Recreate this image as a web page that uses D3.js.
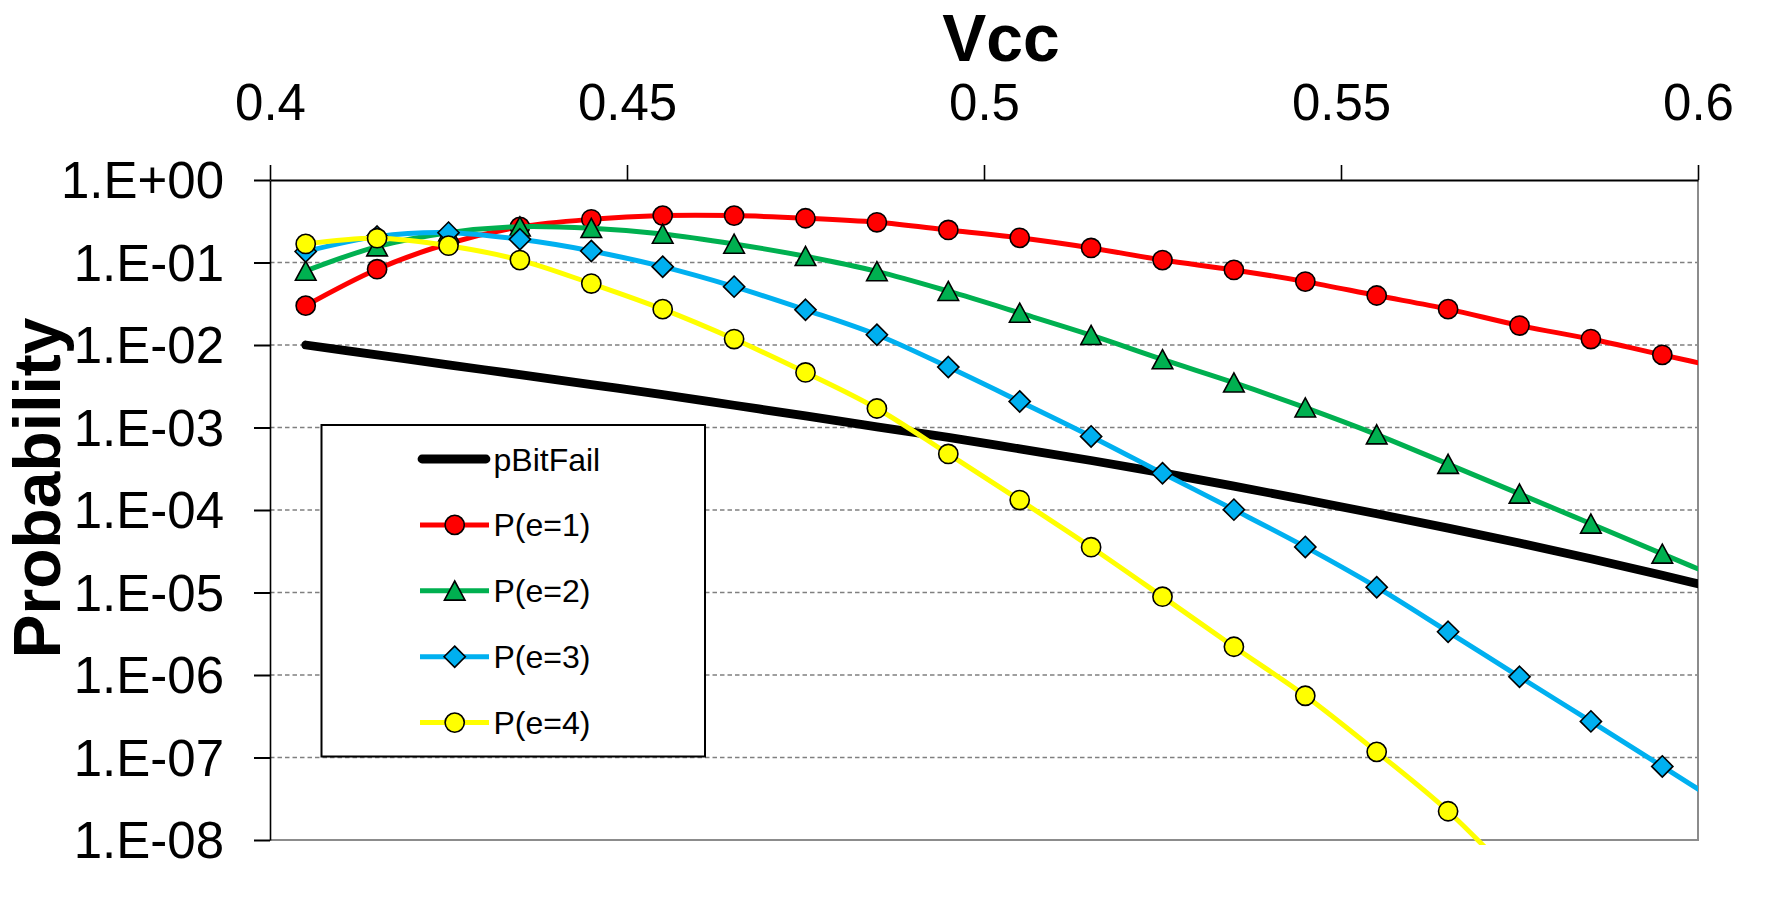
<!DOCTYPE html>
<html>
<head>
<meta charset="utf-8">
<script src="https://cdn.jsdelivr.net/npm/d3@7"></script>
<style>
  body { margin: 0; background: #fff; }
  svg { display: block; font-family: "Liberation Sans", Arial, sans-serif; }
</style>
</head>
<body>
<div id="chart"></div>
<script>
//data
const vcc = [0.405, 0.415, 0.425, 0.435, 0.445, 0.455, 0.465, 0.475, 0.485, 0.495, 0.505,
             0.515, 0.525, 0.535, 0.545, 0.555, 0.565, 0.575, 0.585, 0.595, 0.605];
const pBitFail = [1.00e-2, 7.59e-3, 5.75e-3, 4.37e-3, 3.31e-3, 2.51e-3, 1.86e-3, 1.38e-3, 1.02e-3, 7.59e-4, 5.50e-4,
                  3.98e-4, 2.82e-4, 1.95e-4, 1.33e-4, 9.02e-5, 6.03e-5, 3.98e-5, 2.57e-5, 1.62e-5, 1.0e-5];
const pE1 = [0.030, 0.083, 0.17, 0.27, 0.334, 0.37, 0.37, 0.344, 0.307, 0.248, 0.199,
             0.150, 0.107, 0.0813, 0.0587, 0.0398, 0.0272, 0.0172, 0.0118, 0.0076, 0.0049];
const pE2 = [0.079, 0.156, 0.23, 0.272, 0.26, 0.222, 0.168, 0.119, 0.078, 0.0449, 0.0245,
             0.01315, 0.00668, 0.00349, 0.00174, 8.2e-4, 3.6e-4, 1.57e-4, 6.8e-5, 2.94e-5, 1.27e-5];
const pE3 = [0.136, 0.206, 0.23, 0.191, 0.138, 0.089, 0.051, 0.0267, 0.0133, 0.0054, 0.00207,
             7.8e-4, 2.79e-4, 1.01e-4, 3.57e-5, 1.16e-5, 3.34e-6, 9.5e-7, 2.74e-7, 7.8e-8, 2.2e-8];
const pE4 = [0.168, 0.197, 0.160, 0.107, 0.0556, 0.0272, 0.0118, 0.00465, 0.0017, 4.78e-4, 1.32e-4,
             3.54e-5, 8.9e-6, 2.2e-6, 5.6e-7, 1.17e-7, 2.23e-8, 3e-9];

const seriesNames = ["pBitFail", "P(e=1)", "P(e=2)", "P(e=3)", "P(e=4)"];
const xTicks = [0.4, 0.45, 0.5, 0.55, 0.6];
const xTickLabels = ["0.4", "0.45", "0.5", "0.55", "0.6"];
const yTicks = [1, 1e-1, 1e-2, 1e-3, 1e-4, 1e-5, 1e-6, 1e-7, 1e-8];
const yTickLabels = ["1.E+00", "1.E-01", "1.E-02", "1.E-03", "1.E-04", "1.E-05", "1.E-06", "1.E-07", "1.E-08"];

//styles per series
const styles = [
  { color: "#000000", width: 8.8, marker: null },
  { color: "#FF0000", width: 5, marker: "circle" },
  { color: "#00B050", width: 5, marker: "triangle" },
  { color: "#00B0F0", width: 5, marker: "diamond" },
  { color: "#FFFF00", width: 5, marker: "circle" }
];
const allValues = [pBitFail, pE1, pE2, pE3, pE4];

const W = 1769, H = 898;
const plot = { left: 270, right: 1698, top: 180, bottom: 840 };

const svg = d3.select("#chart").append("svg")
    .attr("width", W).attr("height", H);
svg.append("rect").attr("width", W).attr("height", H).attr("fill", "#fff");

const x = d3.scaleLinear().domain([0.4, 0.6]).range([plot.left, plot.right]);
const y = d3.scaleLog().domain([1e-8, 1]).range([plot.bottom, plot.top]);

//marker path, centered on 0,0
function markerPath(kind) {
  if (kind === "circle") return d3.arc()({ innerRadius: 0, outerRadius: 9.6, startAngle: 0, endAngle: 2 * Math.PI });
  if (kind === "triangle") return "M0,-9.8L10.3,9.3L-10.3,9.3Z";
  if (kind === "diamond") return "M0,-10.6L10.6,0L0,10.6L-10.6,0Z";
  return null;
}

drawGrid();
drawSeries();
drawAxes();
drawLegend();
drawTitles();

//Gridlines and plot border
function drawGrid() {
  svg.append("g")
    .selectAll("line")
    .data(yTicks.slice(1, -1))
    .join("line")
      .attr("x1", plot.left).attr("x2", plot.right)
      .attr("y1", d => y(d)).attr("y2", d => y(d))
      .attr("stroke", "#808080")
      .attr("stroke-width", 1.6)
      .attr("stroke-dasharray", "4.5,3");
  //right and bottom border (gray)
  svg.append("path")
    .attr("d", `M${plot.right},${plot.top}V${plot.bottom}H${plot.left}`)
    .attr("fill", "none")
    .attr("stroke", "#8c8c8c")
    .attr("stroke-width", 2);
}

//Lines and markers
function drawSeries() {
  svg.append("clipPath").attr("id", "clip")
    .append("rect")
      .attr("x", plot.left).attr("y", plot.top)
      .attr("width", plot.right - plot.left)
      .attr("height", plot.bottom - plot.top + 5);

  const g = svg.append("g").attr("clip-path", "url(#clip)");
  const line = d3.line()
      .x(d => x(d[0]))
      .y(d => y(d[1]))
      .curve(d3.curveCatmullRom.alpha(0.5));

  allValues.forEach((vals, i) => {
    const pts = vals.map((v, j) => [vcc[j], v]);
    const st = styles[i];
    g.append("path")
      .attr("d", line(pts))
      .attr("fill", "none")
      .attr("stroke", st.color)
      .attr("stroke-width", st.width)
      .attr("stroke-linecap", i === 0 ? "round" : "butt")
      .attr("stroke-linejoin", "round");
    if (st.marker) {
      g.append("g").selectAll("path")
        .data(pts)
        .join("path")
          .attr("transform", d => `translate(${x(d[0])},${y(d[1])})`)
          .attr("d", markerPath(st.marker))
          .attr("fill", st.color)
          .attr("stroke", "#000")
          .attr("stroke-width", 1.6);
    }
  });
}

//Axes: x on top, y on left (log)
function drawAxes() {
  const xAxis = svg.append("g")
    .attr("transform", `translate(0,${plot.top})`)
    .call(d3.axisTop(x)
      .tickValues(xTicks)
      .tickFormat((d, i) => xTickLabels[i])
      .tickSize(15).tickSizeOuter(0).tickPadding(45));
  xAxis.select(".domain").attr("stroke", "#000").attr("stroke-width", 2.2);
  xAxis.selectAll(".tick line").attr("stroke", "#000").attr("stroke-width", 1.6);
  xAxis.selectAll("text")
    .style("font-size", "51px")
    .style("font-family", "'Liberation Sans', Arial, sans-serif")
    .attr("fill", "#000");

  const yAxis = svg.append("g")
    .attr("transform", `translate(${plot.left},0)`)
    .call(d3.axisLeft(y)
      .tickValues(yTicks)
      .tickFormat((d, i) => yTickLabels[i])
      .tickSize(16).tickSizeOuter(0).tickPadding(30));
  yAxis.select(".domain").attr("stroke", "#000").attr("stroke-width", 1.6);
  yAxis.selectAll(".tick line").attr("stroke", "#000").attr("stroke-width", 2);
  yAxis.selectAll("text")
    .attr("dy", "0.35em")
    .style("font-size", "51px")
    .style("font-family", "'Liberation Sans', Arial, sans-serif")
    .attr("fill", "#000");
}

//Legend box
function drawLegend() {
  const box = { x: 321.5, y: 425, w: 383.5, h: 331.5 };
  const lg = svg.append("g");
  lg.append("rect")
    .attr("x", box.x).attr("y", box.y)
    .attr("width", box.w).attr("height", box.h)
    .attr("fill", "#fff")
    .attr("stroke", "#000")
    .attr("stroke-width", 2);

  const rows = lg.selectAll("g.row")
    .data(seriesNames)
    .join("g")
      .attr("class", "row")
      .attr("transform", (d, i) => `translate(0,${459 + i * 65.9})`);
  rows.append("line")
    .attr("x1", (d, i) => i === 0 ? 422 : 420)
    .attr("x2", (d, i) => i === 0 ? 486 : 489)
    .attr("stroke", (d, i) => styles[i].color)
    .attr("stroke-width", (d, i) => styles[i].width)
    .attr("stroke-linecap", (d, i) => i === 0 ? "round" : "butt");
  rows.filter((d, i) => styles[i].marker)
    .append("path")
      .attr("transform", "translate(454.7,0)")
      .attr("d", (d) => markerPath(styles[seriesNames.indexOf(d)].marker))
      .attr("fill", d => styles[seriesNames.indexOf(d)].color)
      .attr("stroke", "#000")
      .attr("stroke-width", 1.6);
  rows.append("text")
    .attr("x", 493.5)
    .attr("y", 11.5)
    .style("font-size", "32px")
    .attr("fill", "#000")
    .text(d => d);
}

//Axis titles
function drawTitles() {
  svg.append("text")
    .attr("x", 1001).attr("y", 61)
    .attr("text-anchor", "middle")
    .style("font-size", "66px")
    .style("font-weight", "bold")
    .text("Vcc");
  svg.append("text")
    .attr("transform", "translate(60,488) rotate(-90)")
    .attr("text-anchor", "middle")
    .style("font-size", "66px")
    .style("font-weight", "bold")
    .text("Probability");
}
</script>
</body>
</html>
